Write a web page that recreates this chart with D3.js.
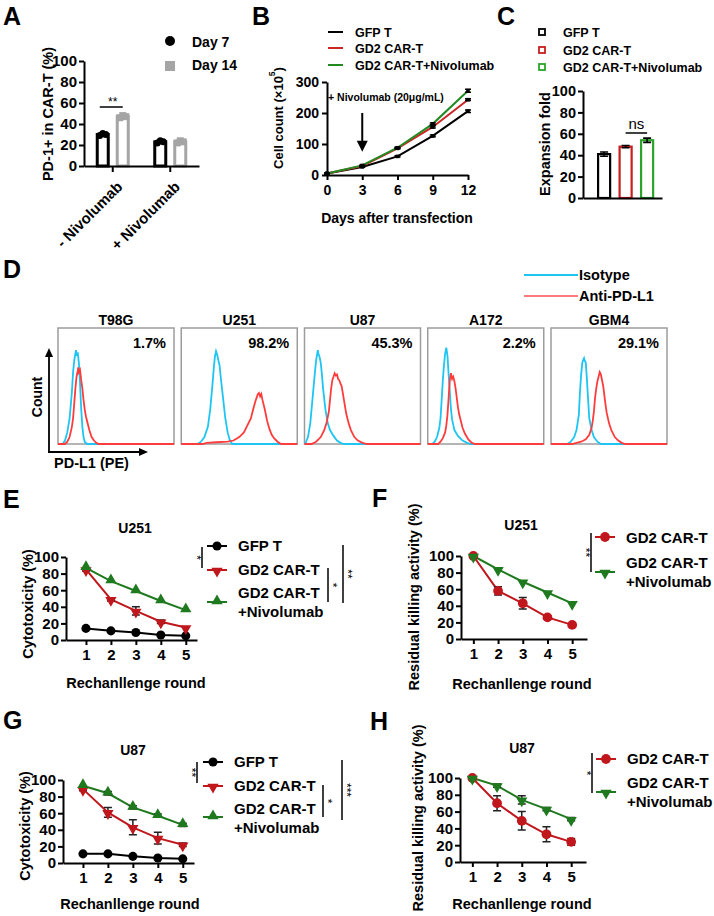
<!DOCTYPE html>
<html>
<head>
<meta charset="utf-8">
<script src="https://cdn.jsdelivr.net/npm/d3@7/dist/d3.min.js"></script>
<style>
  html,body{margin:0;padding:0;background:#fff;}
  svg{display:block;}
</style>
</head>
<body>
<svg id="fig" width="714" height="916"></svg>
<script>
// ================= DATA =================
// Panel A
const aGroups = ["- Nivolumab", "+ Nivolumab"];
const aSeries = ["Day 7", "Day 14"];
const aDay7 = [30, 23];
const aDay14 = [47, 23];
const aDay7Pts = [[29, 31, 30], [22, 24, 23]];
const aDay14Pts = [[46, 48, 47], [22, 24, 23]];
const aTicks = [0, 20, 40, 60, 80, 100];

// Panel B
const bSeries = ["GFP T", "GD2 CAR-T", "GD2 CAR-T+Nivolumab"];
const bDays = [0, 3, 6, 9, 12];
const bGFP = [5, 26, 60, 126, 206];
const bCAR = [5, 29, 86, 155, 243];
const bNivo = [5, 31, 88, 165, 272];
const bGFPErr = [1, 1, 2, 3, 4];
const bCARErr = [1, 1, 2, 3, 3];
const bNivoErr = [1, 1, 2, 3, 5];
const bYTicks = [0, 100, 200, 300];
const bArrow = [3, 200, 75]; // day, from value, to value
const bNote = "+ Nivolumab (20\u03bcg/mL)";

// Panel C
const cGroups = ["GFP T", "GD2 CAR-T", "GD2 CAR-T+Nivolumab"];
const cVals = [41, 48, 54];
const cErr = [2, 1, 2];
const cTicks = [0, 20, 40, 60, 80, 100];

// Panel D (x: relative PE fluorescence 0-100, y: % of max count)
const dLines = ["T98G", "U251", "U87", "A172", "GBM4"];
const dPct = ["1.7%", "98.2%", "45.3%", "2.2%", "29.1%"];
const dIsoT98G = [[0,0],[4,0],[6,3],[8,10],[10,22],[12,45],[13,62],[14,72],[15,78],[15.5,81],[16,76],[17,79],[18,70],[19,52],[20,30],[21,15],[22,6],[23,2],[25,0],[100,0]];
const dAntiT98G = [[0,0],[6,0],[8,2],[10,6],[12,15],[13,22],[14,35],[15,48],[16,58],[17,63],[17.5,66],[18,62],[19,64],[20,55],[21,48],[22,38],[23,30],[24,24],[25,20],[27,12],[29,6],[31,3],[33,1],[35,0],[100,0]];
const dIsoU251 = [[0,0],[14,0],[17,2],[20,6],[23,15],[25,30],[27,52],[28,65],[29,75],[30,80],[31,77],[32,72],[33,68],[34,58],[36,40],[38,22],[40,10],[42,3],[44,0],[100,0]];
const dAntiU251 = [[0,0],[18,0],[22,1],[30,1.5],[40,2],[45,3],[50,6],[54,10],[57,16],[60,22],[62,30],[64,37],[65,40],[66,43],[67,44],[68,41],[69,43],[70,38],[72,30],[74,20],[76,13],[78,8],[80,5],[83,2],[86,0],[100,0]];
const dIsoU87 = [[0,0],[1,1],[3,6],[5,18],[7,40],[9,62],[10,72],[11,78],[11.5,81],[12,78],[13,75],[14,70],[15,60],[16,48],[18,30],[20,18],[22,12],[25,7],[28,3],[31,1],[34,0],[100,0]];
const dAntiU87 = [[0,0],[6,0],[10,2],[14,6],[17,12],[19,18],[21,28],[22,38],[23,48],[24,55],[25,58],[26,61],[27,59],[28,60],[29,56],[30,55],[31,52],[32,50],[33,44],[34,38],[36,26],[38,18],[40,12],[43,6],[46,3],[50,1],[54,0],[100,0]];
const dIsoA172 = [[0,0],[4,0],[6,2],[8,6],[10,14],[11,22],[12,38],[13,55],[14,68],[15,78],[16,83],[17,76],[18,60],[19,45],[20,30],[21,21],[23,12],[26,7],[30,3],[34,1],[37,0],[100,0]];
const dAntiA172 = [[0,0],[9,0],[11,2],[13,5],[15,10],[16,16],[17,25],[18,40],[19,55],[20,61],[21,56],[22,58],[23,54],[24,48],[25,40],[26,32],[27,26],[28,22],[30,14],[32,9],[35,4],[38,1],[41,0],[100,0]];
const dIsoGBM4 = [[0,0],[14,0],[17,2],[20,6],[22,12],[24,25],[25,45],[26,60],[27,70],[28,73],[28.5,74],[29,72],[30,70],[31,55],[32,38],[33,22],[35,12],[37,6],[40,2],[43,0],[100,0]];
const dAntiGBM4 = [[0,0],[18,0],[22,1],[26,2],[30,4],[33,8],[35,14],[36,20],[37,28],[38,40],[39,48],[40,54],[41,58],[42,62],[43,60],[44,55],[45,50],[46,42],[47,34],[48,27],[50,18],[52,12],[55,6],[58,3],[61,1],[64,0],[100,0]];
const dLegend = ["Isotype", "Anti-PD-L1"];

// Panels E-H
const rounds = [1, 2, 3, 4, 5];
const lineYTicks = [0, 20, 40, 60, 80, 100];
const eGFP = [14, 11, 9, 6, 5],   eGFPErr = [1, 1, 1, 1, 1];
const eCAR = [85, 49, 35, 22, 15], eCARErr = [2, 2, 5, 2, 1];
const eNivo = [87, 71, 59, 47, 36], eNivoErr = [1, 1, 1, 1, 1];
const fCAR = [100, 58, 43, 26, 17], fCARErr = [0, 5, 7, 2, 1];
const fNivo = [100, 84, 69, 56, 43], fNivoErr = [0, 1, 1, 1, 1];
const gGFP = [11, 11, 8, 6, 5],   gGFPErr = [1, 1, 1, 1, 1];
const gCAR = [89, 61, 43, 30, 22], gCARErr = [2, 6, 9, 7, 2];
const gNivo = [93, 84, 67, 57, 46], gNivoErr = [1, 2, 2, 2, 2];
const hCAR = [100, 70, 49, 33, 24], hCARErr = [0, 9, 11, 9, 4];
const hNivo = [100, 91, 74, 63, 51], hNivoErr = [0, 2, 5, 2, 2];

// ================= DRAWING =================
const FONT = '"Liberation Sans", Arial, Helvetica, sans-serif';
const svg = d3.select("#fig");
const RED = "#c0171d", GREEN = "#1f7a1f";

function txt(g, x, y, s, size, o = {}) {
  return g.append("text").attr("x", x).attr("y", y)
    .attr("font-family", FONT).attr("font-size", size)
    .attr("font-weight", o.weight || "bold")
    .attr("text-anchor", o.anchor || "start")
    .attr("fill", o.fill || "#000").text(s);
}
function vtxt(g, cx, cy, s, size, o = {}) {
  return g.append("text").attr("transform", `translate(${cx},${cy}) rotate(-90)`)
    .attr("font-family", FONT).attr("font-size", size)
    .attr("font-weight", o.weight || "bold")
    .attr("text-anchor", "middle").attr("dominant-baseline", "central")
    .attr("fill", "#000").text(s);
}
function styleAxis(g, fs) {
  g.attr("font-family", FONT).attr("font-size", fs);
  g.selectAll(".domain").attr("stroke", "#000").attr("stroke-width", 2);
  g.selectAll(".tick line").attr("stroke", "#000").attr("stroke-width", 2);
  g.selectAll(".tick text").attr("fill", "#000").attr("font-weight", "bold");
}
function panelLetter(x, y, s) { txt(svg, x, y, s, 25); }

// ---------- Panel A ----------
(function () {
  const g = svg.append("g");
  const x = d3.scaleBand().domain(aGroups).range([84, 199]);
  const xs = d3.scalePoint().domain(aSeries).range([-10, 10]);
  const y = d3.scaleLinear().domain([0, 100]).range([166, 61]);
  const sets = [[aDay7, aDay7Pts, "#000", "c"], [aDay14, aDay14Pts, "#a5a5a5", "s"]];
  aGroups.forEach((grp, i) => {
    sets.forEach(([vals, pts, col, shp], j) => {
      const cx = x(grp) + x.bandwidth() / 2 + xs(aSeries[j]);
      g.append("rect").attr("x", cx - 5.5).attr("y", y(vals[i]))
        .attr("width", 11).attr("height", y(0) - y(vals[i]))
        .attr("fill", "#fff").attr("stroke", col).attr("stroke-width", 3);
      pts[i].forEach((p, k) => {
        const px = cx + (k - 1) * 3;
        if (shp === "c") g.append("circle").attr("cx", px).attr("cy", y(p)).attr("r", 3.5).attr("fill", col);
        else g.append("rect").attr("x", px - 3.5).attr("y", y(p) - 3.5).attr("width", 7).attr("height", 7).attr("fill", col);
      });
    });
  });
  const ya = g.append("g").attr("transform", "translate(84,0)")
    .call(d3.axisLeft(y).tickValues(aTicks).tickSize(5).tickSizeOuter(0).tickPadding(2));
  styleAxis(ya, 15);
  const xa = g.append("g").attr("transform", "translate(0,166)")
    .call(d3.axisBottom(x).tickSize(6).tickSizeOuter(0).tickFormat(""));
  styleAxis(xa, 15);
  aGroups.forEach(grp => {
    const cx = x(grp) + x.bandwidth() / 2;
    g.append("text").attr("transform", `translate(${cx + 7},${184}) rotate(-45)`)
      .attr("text-anchor", "end").attr("dy", "0.35em")
      .attr("font-family", FONT).attr("font-size", 15).attr("font-weight", "bold").text(grp);
  });
  // significance
  const c1 = x(aGroups[0]) + x.bandwidth() / 2;
  g.append("line").attr("x1", c1 + xs(aSeries[0]) - 3).attr("x2", c1 + xs(aSeries[1]))
    .attr("y1", 107).attr("y2", 107).attr("stroke", "#000").attr("stroke-width", 1.5);
  txt(g, c1, 106, "**", 12, { anchor: "middle", weight: "normal" });
  vtxt(g, 48, 114, "PD-1+ in CAR-T (%)", 14.5);
  // legend
  g.append("circle").attr("cx", 170).attr("cy", 41).attr("r", 5).attr("fill", "#000");
  g.append("rect").attr("x", 165).attr("y", 61).attr("width", 10).attr("height", 10).attr("fill", "#a5a5a5");
  txt(g, 192, 47, aSeries[0], 14);
  txt(g, 192, 70, aSeries[1], 14);
  panelLetter(3, 25, "A");
})();

// ---------- Panel B ----------
(function () {
  const g = svg.append("g");
  const x = d3.scaleLinear().domain([0, 12]).range([327, 468]);
  const y = d3.scaleLinear().domain([0, 300]).range([175, 82]);
  const cols = ["#000", "#cc2525", "#238a23"];
  const vals = [bGFP, bCAR, bNivo];
  const errs = [bGFPErr, bCARErr, bNivoErr];
  vals.forEach((v, si) => {
    g.append("path").datum(bDays.map((d, i) => [d, v[i]]))
      .attr("d", d3.line().x(d => x(d[0])).y(d => y(d[1])))
      .attr("fill", "none").attr("stroke", cols[si]).attr("stroke-width", 2);
  });
  vals.forEach((v, si) => {
    bDays.forEach((d, i) => {
      const e = errs[si][i], cx = x(d);
      g.append("path").attr("d", `M${cx},${y(v[i] - e)}V${y(v[i] + e)}M${cx - 3},${y(v[i] + e)}H${cx + 3}M${cx - 3},${y(v[i] - e)}H${cx + 3}`)
        .attr("stroke", "#000").attr("stroke-width", 1.5).attr("fill", "none");
      g.append("rect").attr("x", cx - 1.8).attr("y", y(v[i]) - 1.8).attr("width", 3.6).attr("height", 3.6).attr("fill", "#000");
    });
  });
  const ya = g.append("g").attr("transform", "translate(327,0)")
    .call(d3.axisLeft(y).tickValues(bYTicks).tickSize(5).tickSizeOuter(0).tickPadding(3));
  styleAxis(ya, 14);
  const xa = g.append("g").attr("transform", "translate(0,175)")
    .call(d3.axisBottom(x).tickValues(bDays).tickSize(5).tickSizeOuter(0).tickPadding(5));
  styleAxis(xa, 14);
  // arrow
  const ax = x(bArrow[0]);
  g.append("line").attr("x1", ax).attr("x2", ax).attr("y1", y(bArrow[1])).attr("y2", y(bArrow[2]) - 8)
    .attr("stroke", "#000").attr("stroke-width", 2);
  g.append("path").attr("d", `M${ax - 5.5},${y(bArrow[2]) - 11}L${ax + 5.5},${y(bArrow[2]) - 11}L${ax},${y(bArrow[2])}Z`).attr("fill", "#000");
  txt(g, 328, 101, bNote, 10.5);
  // titles
  const t = g.append("text").attr("transform", "translate(278,118) rotate(-90)")
    .attr("font-family", FONT).attr("font-size", 13).attr("font-weight", "bold")
    .attr("text-anchor", "middle").attr("dominant-baseline", "central");
  t.append("tspan").text("Cell count (\u00d710");
  t.append("tspan").attr("font-size", 8.5).attr("dy", -6).text("5");
  t.append("tspan").attr("dy", 6).text(")");
  txt(g, 397, 223, "Days after transfection", 14, { anchor: "middle" });
  // legend
  const ly = [32, 48, 65];
  bSeries.forEach((s, i) => {
    g.append("line").attr("x1", 328).attr("x2", 343).attr("y1", ly[i]).attr("y2", ly[i]).attr("stroke", cols[i]).attr("stroke-width", 2);
    txt(g, 355, ly[i] + 4.5, s, 12.5);
  });
  panelLetter(252, 25, "B");
})();

// ---------- Panel C ----------
(function () {
  const g = svg.append("g");
  const x = d3.scaleBand().domain(cGroups).range([583, 662]).paddingInner(0.44).paddingOuter(0.557).align(0.63);
  const y = d3.scaleLinear().domain([0, 100]).range([198, 91]);
  const cols = ["#000", "#c81e1e", "#2aa52a"];
  cGroups.forEach((c, i) => {
    g.append("rect").attr("x", x(c)).attr("y", y(cVals[i])).attr("width", x.bandwidth())
      .attr("height", y(0) - y(cVals[i])).attr("fill", "#fff").attr("stroke", cols[i]).attr("stroke-width", 2.2);
    const cx = x(c) + x.bandwidth() / 2;
    g.append("path").attr("d", `M${cx},${y(cVals[i] - cErr[i])}V${y(cVals[i] + cErr[i])}M${cx - 4},${y(cVals[i] + cErr[i])}H${cx + 4}M${cx - 4},${y(cVals[i] - cErr[i])}H${cx + 4}`)
      .attr("stroke", "#000").attr("stroke-width", 1.6).attr("fill", "none");
  });
  const ya = g.append("g").attr("transform", "translate(583,0)")
    .call(d3.axisLeft(y).tickValues(cTicks).tickSize(5).tickSizeOuter(0).tickPadding(2));
  styleAxis(ya, 14.5);
  const xa = g.append("g").attr("transform", "translate(0,198)")
    .call(d3.axisBottom(x).tickValues([]).tickSizeOuter(0));
  styleAxis(xa, 14);
  const c1 = x(cGroups[1]) + x.bandwidth() / 2, c2 = x(cGroups[2]) + x.bandwidth() / 2;
  g.append("line").attr("x1", c1).attr("x2", c2).attr("y1", 133).attr("y2", 133).attr("stroke", "#000").attr("stroke-width", 1.5);
  txt(g, (c1 + c2) / 2, 129, "ns", 15, { anchor: "middle", weight: "normal" });
  vtxt(g, 545, 144, "Expansion fold", 14.5);
  const ly = [32, 50, 67];
  cGroups.forEach((c, i) => {
    g.append("rect").attr("x", 539).attr("y", ly[i] - 3).attr("width", 6).attr("height", 6)
      .attr("fill", "#fff").attr("stroke", cols[i]).attr("stroke-width", 1.8);
    txt(g, 563, ly[i] + 4.5, c, 12.5);
  });
  panelLetter(497, 25, "C");
})();

// ---------- Panel D ----------
(function () {
  const g = svg.append("g");
  const iso = [dIsoT98G, dIsoU251, dIsoU87, dIsoA172, dIsoGBM4];
  const anti = [dAntiT98G, dAntiU251, dAntiU87, dAntiA172, dAntiGBM4];
  const xb = d3.scaleBand().domain(dLines).range([58, 667]).paddingInner(0.0588);
  const hx = d3.scaleLinear().domain([0, 100]).range([0, xb.bandwidth()]);
  const hy = d3.scaleLinear().domain([0, 100]).range([444, 328]);
  const CYAN = "#1ec5f3", PINK = "#ff3c3c";
  dLines.forEach((name, i) => {
    const x0 = xb(name);
    g.append("rect").attr("x", x0).attr("y", hy(100)).attr("width", xb.bandwidth()).attr("height", hy(0) - hy(100))
      .attr("fill", "#fff").attr("stroke", "#9c9c9c").attr("stroke-width", 1.5);
    const ln = d3.line().x(d => x0 + hx(d[0])).y(d => hy(d[1]));
    g.append("path").datum(iso[i]).attr("d", ln).attr("fill", "none").attr("stroke", CYAN).attr("stroke-width", 1.8);
    g.append("path").datum(anti[i]).attr("d", ln).attr("fill", "none").attr("stroke", PINK).attr("stroke-width", 1.8);
    txt(g, x0 + xb.bandwidth() / 2, 325, name, 14, { anchor: "middle" });
    txt(g, x0 + xb.bandwidth() - 8, 348, dPct[i], 14.5, { anchor: "end" });
  });
  // axes arrows
  g.append("line").attr("x1", 49).attr("x2", 49).attr("y1", 452).attr("y2", 356).attr("stroke", "#000").attr("stroke-width", 1.8);
  g.append("path").attr("d", "M45,357L53,357L49,348Z").attr("fill", "#000");
  g.append("line").attr("x1", 48).attr("x2", 140).attr("y1", 452).attr("y2", 452).attr("stroke", "#000").attr("stroke-width", 1.8);
  g.append("path").attr("d", "M139,448L139,456L148,452Z").attr("fill", "#000");
  vtxt(g, 37, 397, "Count", 14);
  txt(g, 54, 468, "PD-L1 (PE)", 14.5);
  // legend
  g.append("line").attr("x1", 524).attr("x2", 578).attr("y1", 275).attr("y2", 275).attr("stroke", CYAN).attr("stroke-width", 2);
  g.append("line").attr("x1", 524).attr("x2", 578).attr("y1", 296).attr("y2", 296).attr("stroke", "#ff7a7a").attr("stroke-width", 2);
  txt(g, 579, 280, dLegend[0], 14.5);
  txt(g, 579, 301, dLegend[1], 14.5);
  panelLetter(3, 278, "D");
})();

// ---------- Line panels E-H ----------
function linePanel(o) {
  const g = svg.append("g");
  const x = d3.scaleLinear().domain(o.xDomain).range(o.xRange);
  const y = d3.scaleLinear().domain([0, 100]).range(o.yRange);
  const ya = g.append("g").attr("transform", `translate(${o.xRange[0]},0)`)
    .call(d3.axisLeft(y).tickValues(lineYTicks).tickSize(5).tickSizeOuter(0).tickPadding(2));
  styleAxis(ya, 15);
  const xa = g.append("g").attr("transform", `translate(0,${o.yRange[0]})`)
    .call(d3.axisBottom(x).tickValues(rounds).tickFormat(d3.format("d")).tickSize(5).tickSizeOuter(0).tickPadding(4));
  styleAxis(xa, 15);
  const sym = (type, size) => d3.symbol().type(type === "circle" ? d3.symbolCircle : d3.symbolTriangle).size(size)();
  o.series.forEach(s => {
    g.append("path").datum(rounds.map((r, i) => [r, s.vals[i]]))
      .attr("d", d3.line().x(d => x(d[0])).y(d => y(d[1])))
      .attr("fill", "none").attr("stroke", s.color).attr("stroke-width", 2);
  });
  o.series.forEach(s => {
    rounds.forEach((r, i) => {
      const e = s.errs[i], cx = x(r);
      if (e >= 2) {
        g.append("path").attr("d", `M${cx},${y(s.vals[i] - e)}V${y(s.vals[i] + e)}M${cx - 4},${y(s.vals[i] + e)}H${cx + 4}M${cx - 4},${y(s.vals[i] - e)}H${cx + 4}`)
          .attr("stroke", "#222").attr("stroke-width", 1.5).attr("fill", "none");
      }
      const size = s.shape === "circle" ? o.circleSize : 55;
      g.append("path").attr("d", sym(s.shape, size))
        .attr("transform", `translate(${cx},${y(s.vals[i]) + (s.shape === "down" ? 1 : s.shape === "up" ? -1 : 0)}) rotate(${s.shape === "down" ? 180 : 0})`)
        .attr("fill", s.color);
    });
  });
  txt(g, o.titlePos[0], o.titlePos[1], o.title, 14, { anchor: "middle" });
  txt(g, o.xTitlePos[0], o.xTitlePos[1], "Rechanllenge round", 14.5, { anchor: "middle" });
  vtxt(g, o.yTitlePos[0], o.yTitlePos[1], o.yTitle, 14.5);
  // legend
  o.series.forEach((s, k) => {
    const my = o.legMarkY[k];
    g.append("line").attr("x1", o.legX - 10).attr("x2", o.legX + 10).attr("y1", my).attr("y2", my).attr("stroke", s.color).attr("stroke-width", 2);
    const size = s.shape === "circle" ? o.circleSize : 55;
    g.append("path").attr("d", sym(s.shape, size))
      .attr("transform", `translate(${o.legX},${my + (s.shape === "down" ? 1 : s.shape === "up" ? -1 : 0)}) rotate(${s.shape === "down" ? 180 : 0})`)
      .attr("fill", s.color);
  });
  o.legText.forEach(([t, yy]) => txt(g, o.legX + 21, yy, t, 15));
  // significance brackets
  o.sig.forEach(([lx, y1, y2, stars, side]) => {
    g.append("line").attr("x1", lx).attr("x2", lx).attr("y1", y1).attr("y2", y2).attr("stroke", "#000").attr("stroke-width", 1.5);
    g.append("text").attr("transform", `translate(${lx + side * 5},${(y1 + y2) / 2}) rotate(90)`)
      .attr("font-family", FONT).attr("font-size", 12).attr("font-weight", "normal")
      .attr("fill", "#000").style("text-rendering", "geometricPrecision")
      .attr("text-anchor", "middle").attr("dominant-baseline", "central")
      .text(stars);
  });
  panelLetter(o.letterPos[0], o.letterPos[1], o.letter);
}

linePanel({
  letter: "E", letterPos: [3, 508], title: "U251", titlePos: [135, 533],
  xDomain: [0.2, 5.45], xRange: [66, 197], yRange: [640, 557],
  xTitlePos: [136, 688], yTitlePos: [28, 604], yTitle: "Cytotoxicity (%)", circleSize: 65,
  series: [
    { vals: eGFP, errs: eGFPErr, color: "#000", shape: "circle" },
    { vals: eCAR, errs: eCARErr, color: RED, shape: "down" },
    { vals: eNivo, errs: eNivoErr, color: GREEN, shape: "up" }
  ],
  legX: 217, legMarkY: [546, 570, 602],
  legText: [["GFP T", 551], ["GD2 CAR-T", 575], ["GD2 CAR-T", 598], ["+Nivolumab", 617]],
  sig: [[202, 547, 568, "*", -1], [328, 568, 602, "*", 1], [343, 545, 603, "**", 1]]
});
linePanel({
  letter: "F", letterPos: [372, 507], title: "U251", titlePos: [521, 530],
  xDomain: [0.5, 5.6], xRange: [461, 587], yRange: [639, 556],
  xTitlePos: [522, 689], yTitlePos: [414, 597], yTitle: "Residual killing activity (%)", circleSize: 75,
  series: [
    { vals: fCAR, errs: fCARErr, color: RED, shape: "circle" },
    { vals: fNivo, errs: fNivoErr, color: GREEN, shape: "down" }
  ],
  legX: 605, legMarkY: [537, 572],
  legText: [["GD2 CAR-T", 543], ["GD2 CAR-T", 568], ["+Nivolumab", 587]],
  sig: [[591, 533, 572, "**", -1]]
});
linePanel({
  letter: "G", letterPos: [3, 729], title: "U87", titlePos: [133, 755],
  xDomain: [0.2, 5.45], xRange: [63, 194], yRange: [863, 780],
  xTitlePos: [130, 909], yTitlePos: [25, 826], yTitle: "Cytotoxicity (%)", circleSize: 65,
  series: [
    { vals: gGFP, errs: gGFPErr, color: "#000", shape: "circle" },
    { vals: gCAR, errs: gCARErr, color: RED, shape: "down" },
    { vals: gNivo, errs: gNivoErr, color: GREEN, shape: "up" }
  ],
  legX: 213, legMarkY: [762, 786, 817],
  legText: [["GFP T", 767], ["GD2 CAR-T", 791], ["GD2 CAR-T", 814], ["+Nivolumab", 833]],
  sig: [[197, 762, 783, "**", -1], [323, 785, 817, "*", 1], [342, 760, 820, "***", 1]]
});
linePanel({
  letter: "H", letterPos: [370, 730], title: "U87", titlePos: [522, 753],
  xDomain: [0.5, 5.6], xRange: [460, 586], yRange: [862, 778],
  xTitlePos: [522, 909], yTitlePos: [418, 818], yTitle: "Residual killing activity (%)", circleSize: 75,
  series: [
    { vals: hCAR, errs: hCARErr, color: RED, shape: "circle" },
    { vals: hNivo, errs: hNivoErr, color: GREEN, shape: "down" }
  ],
  legX: 606, legMarkY: [759, 792],
  legText: [["GD2 CAR-T", 764], ["GD2 CAR-T", 788], ["+Nivolumab", 807]],
  sig: [[592, 753, 793, "*", -1]]
});
</script>
</body>
</html>
